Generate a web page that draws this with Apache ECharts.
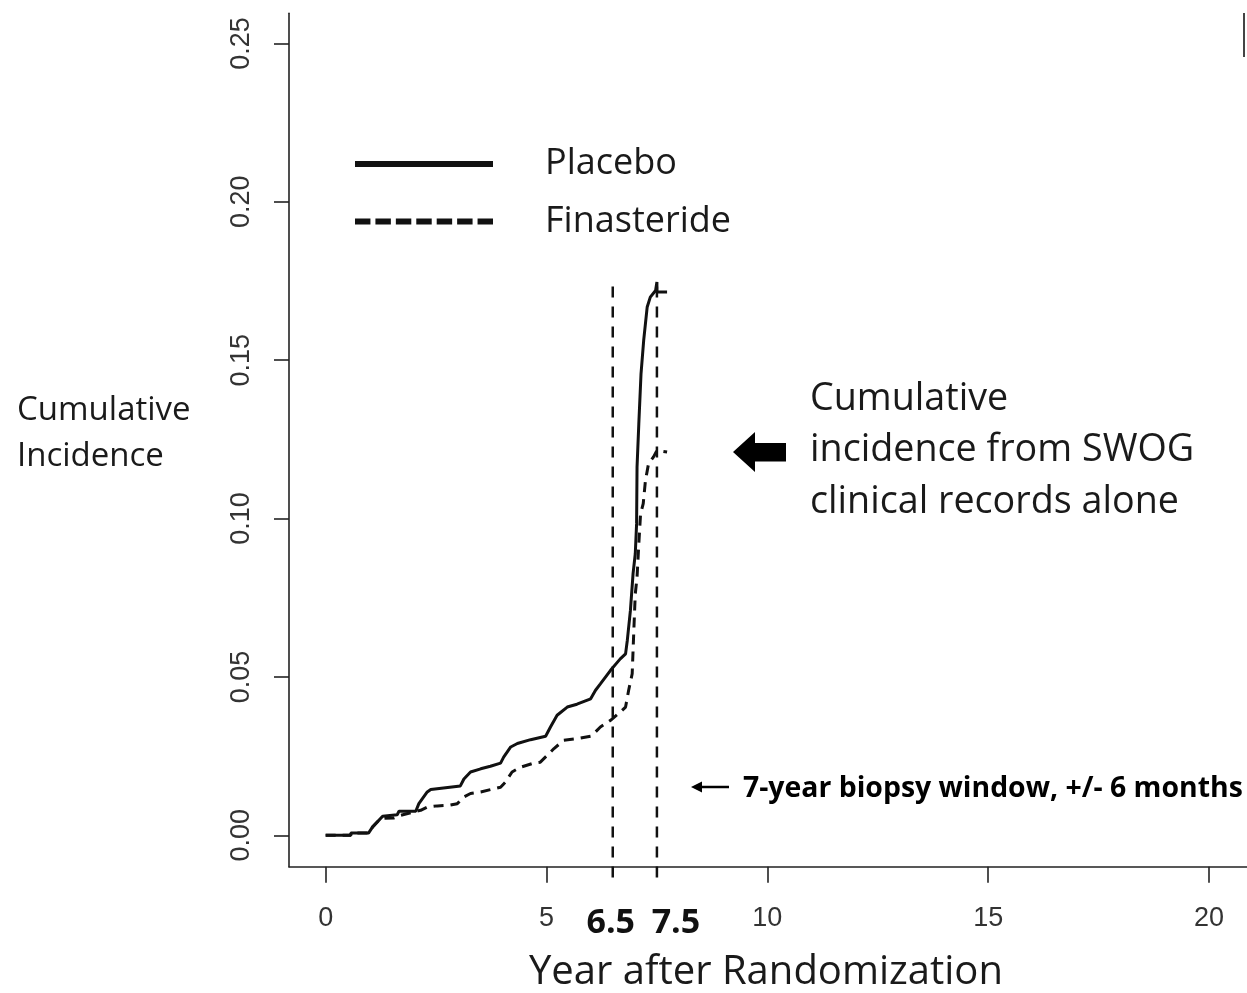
<!DOCTYPE html>
<html>
<head>
<meta charset="utf-8">
<script src="https://cdn.jsdelivr.net/npm/echarts@6/dist/echarts.min.js"></script>
<style>
  html, body { margin: 0; padding: 0; background: #fff; }
  #chart { width: 1247px; height: 993px; }
</style>
</head>
<body>
<div id="chart"></div>
<script>
// Cumulative incidence by year after randomization
const placeboYears = [0, 0.57, 0.57, 0.97, 1.06, 1.29, 1.62, 1.66, 2.04, 2.11,
  2.30, 2.38, 3.05, 3.13, 3.28, 3.51, 3.73, 3.96, 4.03, 4.19,
  4.34, 4.64, 4.98, 5.09, 5.24, 5.47, 5.69, 6.00, 6.11, 6.22,
  6.45, 6.67, 6.79, 6.83, 6.90, 6.96, 7.01, 7.04, 7.05, 7.09,
  7.14, 7.20, 7.28, 7.35, 7.47, 7.50, 7.50, 7.73];
const placeboIncidence = [0, 0, 0.0007, 0.0007, 0.0026, 0.0060, 0.0065, 0.0076, 0.0076, 0.0100,
  0.0137, 0.0145, 0.0156, 0.0178, 0.0200, 0.0210, 0.0218, 0.0228, 0.0247, 0.0279,
  0.0290, 0.0302, 0.0313, 0.0342, 0.0379, 0.0405, 0.0414, 0.0431, 0.0458, 0.0478,
  0.0521, 0.0557, 0.0573, 0.0616, 0.0710, 0.0826, 0.0889, 0.0984, 0.1163, 0.1299,
  0.1457, 0.1562, 0.1668, 0.1699, 0.1720, 0.1747, 0.1715, 0.1715];

const finasterideYears = [0, 0.57, 0.57, 0.97, 1.06, 1.24, 1.55, 1.70, 2.00, 2.15,
  2.30, 2.53, 2.79, 2.98, 3.13, 3.28, 3.51, 3.81, 3.96, 4.07,
  4.22, 4.41, 4.71, 4.86, 5.02, 5.17, 5.39, 5.69, 6.00, 6.07,
  6.22, 6.45, 6.67, 6.79, 6.86, 6.94, 6.98, 7.01, 7.05, 7.09,
  7.13, 7.19, 7.24, 7.31, 7.42, 7.50, 7.50, 7.73];
const finasterideIncidence = [0, 0, 0.0007, 0.0007, 0.0026, 0.0053, 0.0055, 0.0063, 0.0074, 0.0079,
  0.0089, 0.0093, 0.0095, 0.0100, 0.0121, 0.0132, 0.0137, 0.0147, 0.0152, 0.0168,
  0.0200, 0.0215, 0.0228, 0.0231, 0.0253, 0.0274, 0.0300, 0.0305, 0.0313, 0.0321,
  0.0342, 0.0363, 0.0389, 0.0405, 0.0458, 0.0510, 0.0657, 0.0762, 0.0815, 0.0920,
  0.1015, 0.1047, 0.1120, 0.1173, 0.1194, 0.1215, 0.1210, 0.1210];

// 7-year biopsy window (years) and the vertical extent of its marker lines
const biopsyWindow = [6.5, 7.5];
const windowSpan = [-0.0133, 0.175];

const xTicks = [0, 5, 10, 15, 20];
const yTicks = [0, 0.05, 0.10, 0.15, 0.20, 0.25];
const yTickLabels = ['0.00', '0.05', '0.10', '0.15', '0.20', '0.25'];

const seriesNames = ['Placebo', 'Finasteride'];

const zip = (xs, ys) => xs.map((x, i) => [x, ys[i]]);

const ink = '#1a1a1a';
const axisInk = '#222';
const calibriLike = '"Open Sans", "Noto Sans", sans-serif';
const rLike = '"Liberation Sans", Arial, sans-serif';

// Legend keys: a thick solid bar and a thick bar broken into seven dashes
const solidKey = 'path://M0,0H138V6H0Z';
const dashedKey = 'path://' + Array.from({ length: 7 }, (_, i) => {
  const x0 = i * 20.5;
  return 'M' + x0 + ',0H' + (x0 + 15.5) + 'V6H' + x0 + 'Z';
}).join(' ');

const chart = echarts.init(document.getElementById('chart'), null, { renderer: 'canvas' });

const windowSeries = biopsyWindow.map(x => ({
  type: 'line',
  name: 'window ' + x,
  data: [[x, windowSpan[0]], [x, windowSpan[1]]],
  showSymbol: false,
  symbol: 'none',
  clip: false,
  silent: true,
  lineStyle: { color: '#111', width: 2.5, type: [11, 9] },
  z: 1
}));

const option = {
  backgroundColor: '#fff',
  animation: false,
  grid: { left: 289, right: 0, top: 13.3, bottom: 126.3, containLabel: false },
  xAxis: {
    type: 'value',
    min: -0.83,
    max: 20.86,
    axisLine: { show: true, onZero: false, lineStyle: { color: axisInk, width: 1.6 } },
    axisTick: { show: true, length: 16, customValues: xTicks, lineStyle: { color: axisInk, width: 1.6 } },
    axisLabel: {
      customValues: xTicks.concat(biopsyWindow).sort((a, b) => a - b),
      margin: 38,
      fontFamily: rLike,
      fontSize: 27,
      color: '#333',
      formatter: v => {
        if (v === biopsyWindow[0]) return '{lo|' + v.toFixed(1) + '}';
        if (v === biopsyWindow[1]) return '{hi|' + v.toFixed(1) + '}';
        return String(v);
      },
      rich: {
        lo: { fontFamily: calibriLike, fontWeight: 'bold', fontSize: 34, color: '#111', padding: [2, 4, 0, 0] },
        hi: { fontFamily: calibriLike, fontWeight: 'bold', fontSize: 34, color: '#111', padding: [2, 0, 0, 38] }
      }
    },
    splitLine: { show: false }
  },
  yAxis: {
    type: 'value',
    min: -0.0099,
    max: 0.2595,
    axisLine: { show: true, onZero: false, lineStyle: { color: axisInk, width: 1.6 } },
    axisTick: { show: true, length: 15, customValues: yTicks, lineStyle: { color: axisInk, width: 1.6 } },
    axisLabel: {
      customValues: yTicks,
      rotate: 90,
      margin: 34,
      fontFamily: rLike,
      fontSize: 27,
      color: '#333',
      formatter: v => yTickLabels[yTicks.findIndex(t => Math.abs(t - v) < 1e-9)]
    },
    splitLine: { show: false }
  },
  legend: {
    orient: 'vertical',
    left: 355,
    top: 144,
    padding: 0,
    itemWidth: 138,
    itemHeight: 6,
    itemGap: 17.6,
    selectedMode: false,
    itemStyle: { color: '#111', borderWidth: 0 },
    textStyle: { fontFamily: calibriLike, fontSize: 36, color: ink, padding: [0, 0, 0, 47], lineHeight: 40 },
    data: [
      { name: seriesNames[0], icon: solidKey },
      { name: seriesNames[1], icon: dashedKey }
    ]
  },
  series: [
    {
      type: 'line',
      name: seriesNames[0],
      data: zip(placeboYears, placeboIncidence),
      showSymbol: false,
      symbol: 'none',
      itemStyle: { color: '#111' },
      lineStyle: { color: '#111', width: 3, type: 'solid' },
      z: 3
    },
    {
      type: 'line',
      name: seriesNames[1],
      data: zip(finasterideYears, finasterideIncidence),
      showSymbol: false,
      symbol: 'none',
      itemStyle: { color: '#111' },
      lineStyle: { color: '#111', width: 3, type: [10, 7] },
      z: 3
    }
  ].concat(windowSeries),
  graphic: [
    {
      type: 'text',
      left: 17, top: 388,
      style: { text: 'Cumulative\nIncidence', font: '33px ' + calibriLike, fill: ink, lineHeight: 46 }
    },
    {
      type: 'text',
      left: 810, top: 373.5,
      style: {
        text: 'Cumulative\nincidence from SWOG\nclinical records alone',
        font: '37.7px ' + calibriLike, fill: ink, lineHeight: 51.5
      }
    },
    {
      type: 'polygon',
      shape: { points: [[733, 452], [755, 432], [755, 443], [786, 443], [786, 461.5], [755, 461.5], [755, 472]] },
      style: { fill: '#000' }
    },
    {
      type: 'line',
      shape: { x1: 729, y1: 787, x2: 698, y2: 787 },
      style: { stroke: '#000', lineWidth: 2.5 }
    },
    {
      type: 'polygon',
      shape: { points: [[691, 787], [702, 781.5], [702, 792.5]] },
      style: { fill: '#000' }
    },
    {
      type: 'text',
      left: 743, top: 775,
      style: { text: '7-year biopsy window, +/- 6 months', font: 'bold 28.4px ' + calibriLike, fill: '#000' }
    },
    {
      type: 'line',
      shape: { x1: 1244, y1: 13, x2: 1244, y2: 57 },
      style: { stroke: '#444', lineWidth: 2 }
    },
    {
      type: 'text',
      left: 529, top: 953,
      style: { text: 'Year after Randomization', font: '40px ' + calibriLike, fill: ink }
    }
  ]
};

chart.setOption(option);
</script>
</body>
</html>
